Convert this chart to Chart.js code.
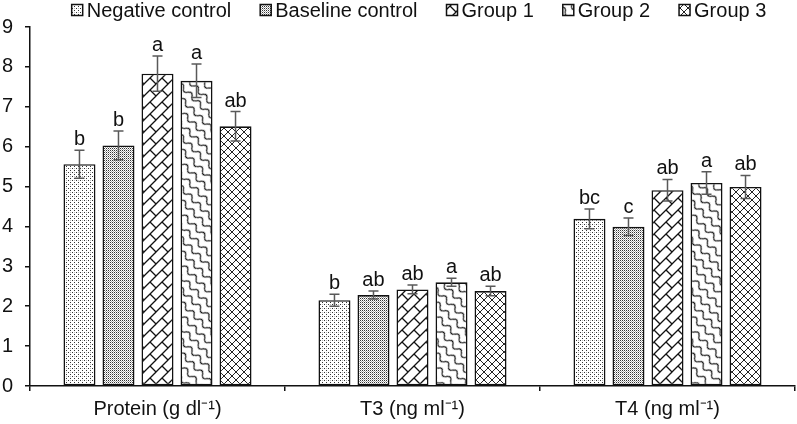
<!DOCTYPE html>
<html>
<head>
<meta charset="utf-8">
<script src="https://cdn.jsdelivr.net/npm/chart.js@4"></script>
<style>
  html, body { margin: 0; padding: 0; background: #fff; }
  canvas { display: block; }
</style>
</head>
<body>
<canvas id="chart" width="797" height="424"></canvas>
<script>
const categories = ['Protein (g dl\u207B\u00B9)', 'T3 (ng ml\u207B\u00B9)', 'T4 (ng ml\u207B\u00B9)'];
const seriesNames = ['Negative control', 'Baseline control', 'Group 1', 'Group 2', 'Group 3'];

const negativeControl = [5.56, 2.15, 4.19];
const baselineControl = [6.03, 2.28, 3.99];
const group1 = [7.83, 2.42, 4.91];
const group2 = [7.65, 2.60, 5.09];
const group3 = [6.51, 2.38, 4.99];

const negativeErr = [0.35, 0.15, 0.25];
const baselineErr = [0.36, 0.10, 0.22];
const group1Err = [0.44, 0.11, 0.27];
const group2Err = [0.42, 0.10, 0.28];
const group3Err = [0.37, 0.12, 0.29];

const negativeLetters = ['b', 'b', 'bc'];
const baselineLetters = ['b', 'ab', 'c'];
const group1Letters = ['a', 'ab', 'ab'];
const group2Letters = ['a', 'a', 'a'];
const group3Letters = ['ab', 'ab', 'ab'];

const yTicks = [0, 1, 2, 3, 4, 5, 6, 7, 8, 9];

const FONT = '"Liberation Sans", Arial, sans-serif';

function tile(w, h, draw) {
    const c = document.createElement('canvas');
    c.width = w;
    c.height = h;
    const g = c.getContext('2d');
    g.fillStyle = '#fff';
    g.fillRect(0, 0, w, h);
    draw(g);
    return c;
}

function makePatterns(ctx) {
    // sparse dots
    const sparse = tile(4, 4, g => {
        g.fillStyle = '#333';
        g.fillRect(0, 0, 1, 1);
        g.fillRect(2, 2, 1, 1);
        g.fillStyle = '#bbb';
        g.fillRect(2, 0, 1, 1);
    });
    // dense dots
    const dense = tile(2, 2, g => {
        g.fillStyle = '#333';
        g.fillRect(0, 0, 1, 1);
        g.fillStyle = '#aaa';
        g.fillRect(1, 1, 1, 1);
    });
    // diagonal brick
    const T = 12;
    const brick = tile(T, T, g => {
        g.strokeStyle = '#111';
        g.lineWidth = 1.3;
        g.beginPath();
        [0, T, 2 * T].forEach(c => {
            g.moveTo(c + 2, -2);
            g.lineTo(-2, c + 2);
        });
        g.moveTo(T / 2, T / 2);
        g.lineTo(T, T);
        g.stroke();
    });
    // wave
    const wave = tile(12, 9, g => {
        g.strokeStyle = '#111';
        g.lineWidth = 1.2;
        g.beginPath();
        for (let x = -1; x <= 13; x += 0.5) {
            const y = 4.5 + 2.2 * Math.sin(2 * Math.PI * x / 12);
            if (x === -1) g.moveTo(x, y); else g.lineTo(x, y);
        }
        g.stroke();
    });
    // diamond cross hatch
    const diamond = tile(8, 8, g => {
        g.strokeStyle = '#222';
        g.lineWidth = 1;
        g.beginPath();
        g.moveTo(-1, -1); g.lineTo(9, 9);
        g.moveTo(-1, 9); g.lineTo(9, -1);
        g.stroke();
    });

    const pats = [sparse, dense, brick, wave, diamond].map(c => ctx.createPattern(c, 'repeat'));
    pats[3].setTransform(new DOMMatrix().rotateSelf(45));
    return pats;
}

const canvas = document.getElementById('chart');
const ctx = canvas.getContext('2d');
const patterns = makePatterns(ctx);

const values = [negativeControl, baselineControl, group1, group2, group3];
const errors = [negativeErr, baselineErr, group1Err, group2Err, group3Err];
const letters = [negativeLetters, baselineLetters, group1Letters, group2Letters, group3Letters];

const errorBarPlugin = {
    id: 'errorBars',
    afterDatasetsDraw(chart) {
        const c = chart.ctx;
        const y = chart.scales.y;
        c.save();
        chart.data.datasets.forEach((ds, i) => {
            const meta = chart.getDatasetMeta(i);
            meta.data.forEach((bar, j) => {
                const v = ds.data[j];
                const e = errors[i][j];
                const top = y.getPixelForValue(v + e);
                const bot = y.getPixelForValue(v - e);
                c.strokeStyle = '#595959';
                c.lineWidth = 1.5;
                c.beginPath();
                c.moveTo(bar.x, top);
                c.lineTo(bar.x, bot);
                c.moveTo(bar.x - 5, top);
                c.lineTo(bar.x + 5, top);
                c.moveTo(bar.x - 5, bot);
                c.lineTo(bar.x + 5, bot);
                c.stroke();
                c.fillStyle = '#111';
                c.font = '20px ' + FONT;
                c.textAlign = 'center';
                c.textBaseline = 'alphabetic';
                c.fillText(letters[i][j], bar.x, top - 5);
            });
        });
        c.restore();
    }
};

const legendPlugin = {
    id: 'patternLegend',
    afterDraw(chart) {
        const c = chart.ctx;
        c.save();
        c.font = '20px ' + FONT;
        const box = 11, gapText = 4, gapItem = 29;
        const widths = seriesNames.map(n => box + gapText + c.measureText(n).width);
        const total = widths.reduce((a, b) => a + b, 0) + gapItem * (widths.length - 1);
        let x = 419 - total / 2;
        const cy = 10;
        seriesNames.forEach((n, i) => {
            c.fillStyle = patterns[i];
            c.fillRect(x, cy - box / 2, box, box);
            c.strokeStyle = '#111';
            c.lineWidth = 1.5;
            c.strokeRect(x, cy - box / 2, box, box);
            c.fillStyle = '#111';
            c.textAlign = 'left';
            c.textBaseline = 'middle';
            c.fillText(n, x + box + gapText, cy + 1);
            x += widths[i] + gapItem;
        });
        c.restore();
    }
};

new Chart(ctx, {
    type: 'bar',
    data: {
        labels: categories,
        datasets: seriesNames.map((name, i) => ({
            label: name,
            data: values[i],
            backgroundColor: patterns[i],
            borderColor: '#111',
            borderWidth: 1.6,
            borderSkipped: false,
            categoryPercentage: 0.765,
            barPercentage: 0.82
        }))
    },
    options: {
        responsive: false,
        devicePixelRatio: 1,
        animation: false,
        layout: { padding: { top: 27, right: 2, left: 0, bottom: 0 } },
        plugins: {
            legend: { display: false },
            tooltip: { enabled: false }
        },
        scales: {
            x: {
                grid: {
                    display: true,
                    drawOnChartArea: false,
                    drawTicks: true,
                    tickLength: 5,
                    color: '#111',
                    lineWidth: 1.5,
                    offset: true
                },
                border: { display: true, color: '#111', width: 1.5 },
                ticks: {
                    color: '#111',
                    padding: 6,
                    font: { family: FONT, size: 20 }
                },
                afterFit(scale) { scale.height = 38; }
            },
            y: {
                min: 0,
                max: 9,
                afterBuildTicks(scale) { scale.ticks = yTicks.map(v => ({ value: v })); },
                grid: {
                    display: true,
                    drawOnChartArea: false,
                    drawTicks: true,
                    tickLength: 5,
                    color: '#111',
                    lineWidth: 1.5
                },
                border: { display: true, color: '#111', width: 1.5 },
                ticks: {
                    color: '#111',
                    padding: 12,
                    font: { family: FONT, size: 20 }
                },
                afterFit(scale) { scale.width = 30; }
            }
        }
    },
    plugins: [errorBarPlugin, legendPlugin]
});
</script>
</body>
</html>
